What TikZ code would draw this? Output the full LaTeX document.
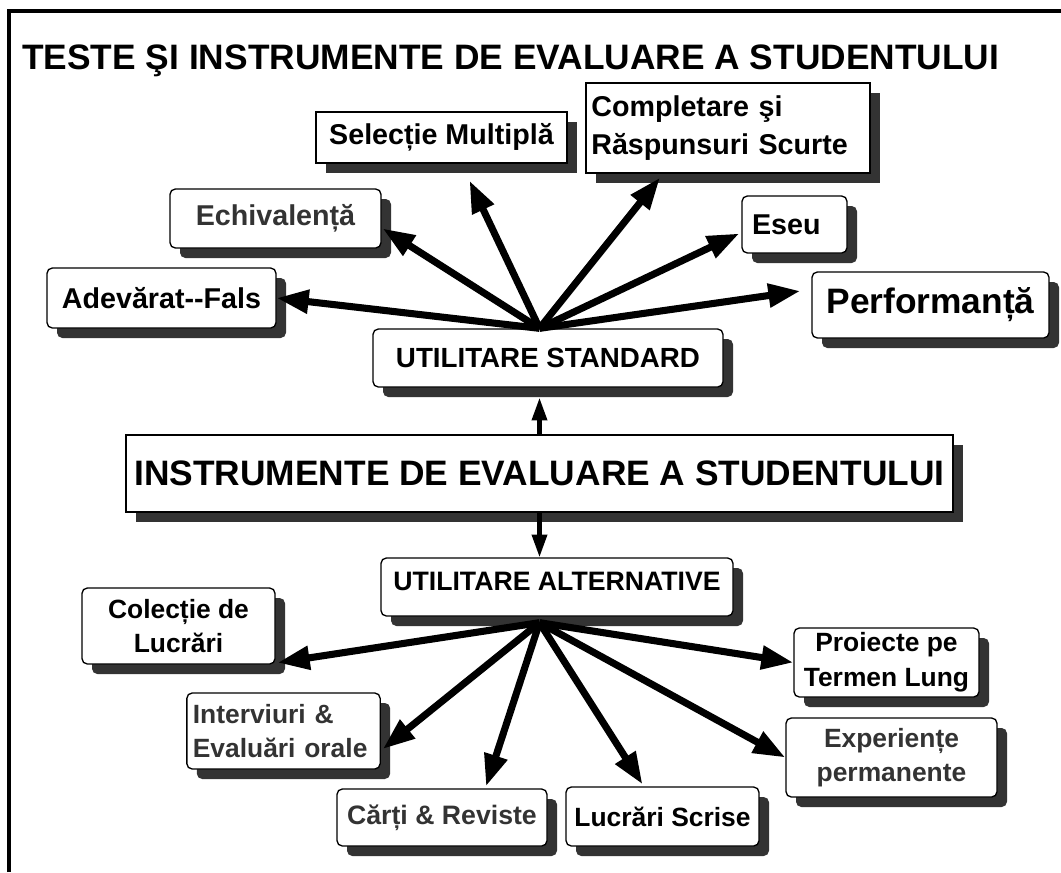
\documentclass[tikz,border=0pt]{standalone}
\usepackage{fontspec}
\setmainfont{Liberation Sans}
\usetikzlibrary{arrows.meta,calc,shadows}

\definecolor{shadowgray}{HTML}{333333}
\definecolor{textgray}{HTML}{333333}

\newcommand{\fntbig}{\fontsize{26.5}{31}\selectfont\bfseries}
\newcommand{\fntup}{\fontsize{21.5}{26}\selectfont\bfseries}
\newcommand{\fntlow}{\fontsize{19.8}{26}\selectfont\bfseries}
\newcommand{\fntutil}{\fontsize{20}{24}\selectfont\bfseries}

\tikzset{
  box/.style={draw, fill=white, line width=1pt, inner sep=0pt, align=center,
    general shadow={fill=shadowgray, shadow xshift=7.5pt, shadow yshift=-7.5pt}},
  rbox/.style={box, rounded corners=4pt},
  boxwh/.style 2 args={minimum width=#1*0.75pt, minimum height=#2*0.75pt},
  conn/.style={line width=5.3pt, -{Triangle[length=24pt,width=17pt]}},
  vconn/.style={line width=3.3pt, -{Triangle[length=17pt,width=11pt]}},
}

\begin{document}
\begin{tikzpicture}[x=0.75pt,y=-0.75pt]
	\useasboundingbox (0,0) rectangle (1061,872);
	
	%%%%% frame and title %%%%%
	\draw[line width=3pt] (9,872) -- (9,11) -- (1061,11);
	\node[anchor=base west, inner sep=0pt, font=\fntbig] (title) at (22,69) {TESTE ŞI INSTRUMENTE DE EVALUARE A STUDENTULUI};
	
	%%%%% standard tools %%%%%
	\node[box, boxwh={251}{51}, font=\fntup] (selm) at (441.5,137.5) {Selecție Multiplă};
	\node[box, boxwh={284}{90}, font=\fontsize{21.5}{28}\selectfont\bfseries, align=left, text width=205pt, inner xsep=4pt] (compl) at (728,128) {Completare şi\\Răspunsuri Scurte};
	\node[rbox, boxwh={211}{59}, font=\fntup, text=textgray] (echiv) at (275.5,218.5) {Echivalență};
	\node[rbox, boxwh={105}{57}, font=\fntup, align=left, text width=63.75pt, inner xsep=7.5pt] (eseu) at (794.5,224.5) {Eseu};
	\node[rbox, boxwh={229}{60}, font=\fntup] (adev) at (161.5,298) {Adevărat-{}-Fals};
	\node[rbox, boxwh={237}{66}, font=\fntbig] (perf) at (930.5,305) {Performanță};
	\node[rbox, boxwh={350}{58}, font=\fontsize{20.8}{24}\selectfont\bfseries] (st) at (548,358) {UTILITARE STANDARD};
	
	%%%%% centre %%%%%
	\node[box, boxwh={827}{77}, font=\fntbig] (instr) at (539.5,473.5) {INSTRUMENTE DE EVALUARE A STUDENTULUI};
	
	%%%%% alternative tools %%%%%
	\node[rbox, boxwh={352}{58}, font=\fntutil, text height=24pt, text depth=19.5pt] (alt) at (557,587) {UTILITARE ALTERNATIVE};
	\node[rbox, boxwh={193}{76}, font=\fntlow] (colec) at (178.5,626) {Colecție de\\Lucrări};
	\node[rbox, boxwh={185}{69}, font=\fntlow] (proie) at (886.5,662.5) {Proiecte pe\\Termen Lung};
	\node[rbox, boxwh={193}{76}, font=\fntlow, text=textgray, align=left, text width=136pt, inner xsep=4.5pt] (interv) at (283.5,731) {Interviuri \&\\Evaluări orale};
	\node[rbox, boxwh={211}{79}, font=\fntlow, text=textgray] (exper) at (891.5,757.5) {Experiențe\\permanente};
	\node[rbox, boxwh={210}{57}, font=\fontsize{20}{24}\selectfont\bfseries, text=textgray] (carti) at (442,817.5) {Cărți \& Reviste};
	\node[rbox, boxwh={193}{59}, font=\fntlow] (lucr) at (662.5,816.5) {Lucrări Scrise};
	
	%%%%% connectors %%%%%
	\coordinate (hubS) at (instr.north |- st.north);
	\coordinate (hubA) at ($(instr.south |- alt.south)+(0,6)$);
	
	\draw[vconn] (instr.north) -- ($(instr.north |- st.south)+(0,10)$);
	\draw[vconn] (instr.south) -- (instr.south |- alt.north);
	
	\draw[conn] (hubS) -- (adev.east);
	\draw[conn] (hubS) -- ($(echiv.east)+(1,10)$);
	\draw[conn] (hubS) -- ($(selm.south)+(28,17)$);
	\draw[conn] (hubS) -- ($(compl.south)+(-68,4)$);
	\draw[conn] (hubS) -- ($(eseu.west)+(-2,9)$);
	\draw[conn] (hubS) -- ($(perf.west)+(-11,-14)$);
	
	\draw[conn] (hubA) -- ($(colec.south east)+(2,-2)$);
	\draw[conn] (hubA) -- ($(interv.east)+(2,18)$);
	\draw[conn] (hubA) -- ($(carti.north)+(44,-2)$);
	\draw[conn] (hubA) -- ($(lucr.north)+(-20,-2)$);
	\draw[conn] (hubA) -- (exper.west);
	\draw[conn] (hubA) -- (proie.west);
\end{tikzpicture}
\end{document}
